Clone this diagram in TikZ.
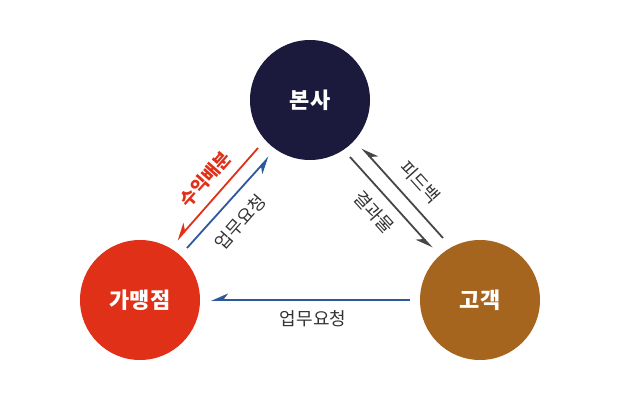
\documentclass[tikz,border=0pt]{standalone}
\usepackage{fontspec}
\setmainfont{Noto Sans CJK KR}
\usepackage{tikz}
\usetikzlibrary{arrows.meta}
\definecolor{hqnavy}{RGB}{27,26,60}
\definecolor{storered}{RGB}{224,48,24}
\definecolor{custbrown}{RGB}{166,101,31}
\definecolor{reqblue}{RGB}{47,88,155}
\definecolor{fbgray}{RGB}{70,70,70}

\begin{document}
\begin{tikzpicture}[
    x=1pt, y=1pt,
    party/.style={circle, minimum size=120pt, inner sep=0pt, text=white,
        font=\bfseries\fontsize{22}{26}\selectfont},
    flow/.style={-{Stealth[harpoon, swap, length=15pt, width=13pt, inset=5pt]}, line width=1.8pt},
    flowlabel/.style={font=\fontsize{18}{21}\selectfont, text=black!80, inner sep=0pt}
]
\useasboundingbox (0,0) rectangle (620,400);
\node[party, fill=hqnavy] (hq) at (310,300) {본사};
\node[party, fill=storered] (store) at (140,100) {가맹점};
\node[party, fill=custbrown] (cust) at (480,100) {고객};
% end points of the flows
\coordinate (shareA) at (258,252);
\coordinate (shareB) at (177,160);
\coordinate (reqA) at (187,152);
\coordinate (reqB) at (269,243);
\coordinate (fbA) at (443,162);
\coordinate (fbB) at (362,252);
\coordinate (resA) at (350,243);
\coordinate (resB) at (432,152);
\coordinate (ordA) at (410,100);
\coordinate (ordB) at (211,100);
\draw[flow, draw=storered] (shareA) -- (shareB);
\draw[flow, draw=reqblue] (reqA) -- (reqB);
\draw[flow, draw=fbgray] (fbA) -- (fbB);
\draw[flow, draw=fbgray] (resA) -- (resB);
\draw[flow, draw=reqblue] (ordA) -- (ordB);
\node[flowlabel, rotate=48.6, text=storered, font=\bfseries\fontsize{18}{21}\selectfont] (sharelabel) at (205,221) {수익배분};
\node[flowlabel, rotate=48.6] (reqlabel) at (240,178) {업무요청};
\node[flowlabel, rotate=-48] (fblabel) at (420,218) {피드백};
\node[flowlabel, rotate=-48] (reslabel) at (374,188) {결과물};
\node[flowlabel] (ordlabel) at (313,81) {업무요청};
\end{tikzpicture}
\end{document}
